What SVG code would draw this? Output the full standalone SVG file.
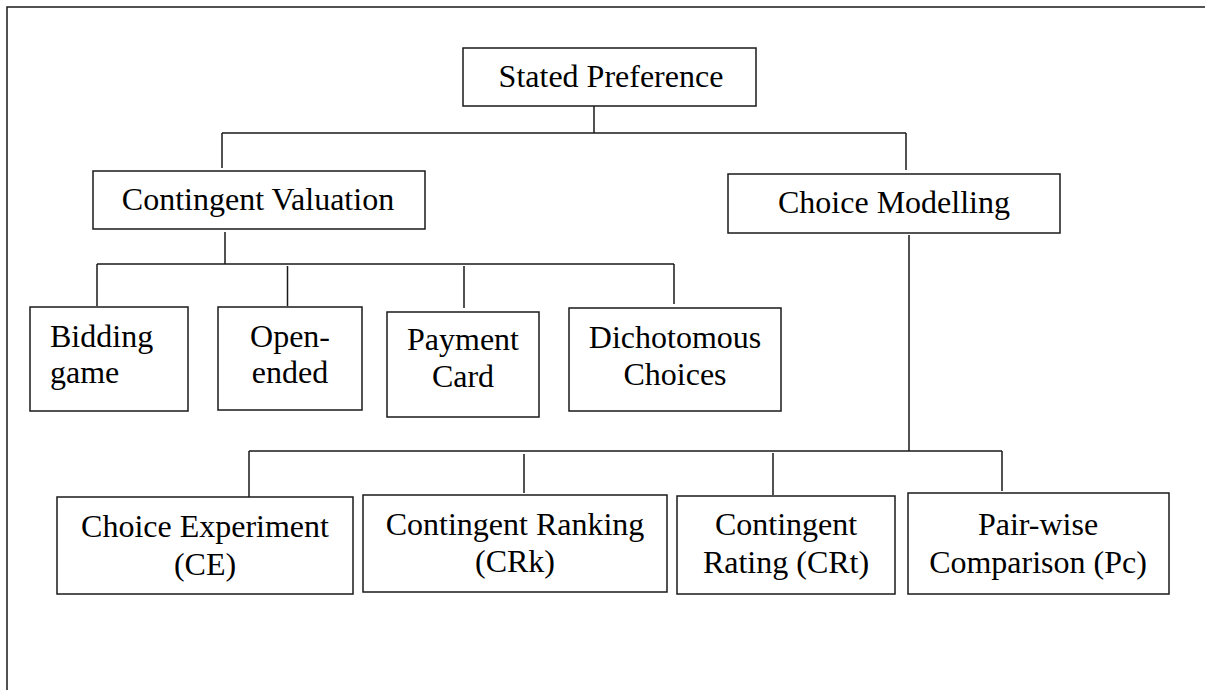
<svg xmlns="http://www.w3.org/2000/svg" width="1205" height="690" viewBox="0 0 1205 690">
<style>
.box{fill:#fff;stroke:#1a1a1a;stroke-width:1.5}
.t{font-family:"Liberation Serif","Times New Roman",serif;font-size:32px;fill:#000}
.c{text-anchor:middle}
.ln{stroke:#1a1a1a;stroke-width:1.5;fill:none}
</style>
<rect width="1205" height="690" fill="#fff"/>
<g id="frame"><path class="ln" d="M7,690 V7 H1205"/></g>
<g id="connectors">
<path class="ln" d="M594,106 V133 M222,133 H906 M222,133 V168 M906,133 V170"/>
<path class="ln" d="M225,232 V264 M97,264 H674 M97,264 V306 M287.5,266 V306 M464,266 V308 M674,264 V304"/>
<path class="ln" d="M909,235 V451 M249,451 H1002 M249,451 V497 M524,454 V493 M773,453 V495 M1002,451 V491"/>
</g>
<g id="stated-preference"><rect class="box" x="463" y="48" width="293" height="58"/><text class="t c" x="611" y="87">Stated Preference</text></g>
<g id="contingent-valuation"><rect class="box" x="93" y="171" width="332" height="58"/><text class="t c" x="258" y="210">Contingent Valuation</text></g>
<g id="choice-modelling"><rect class="box" x="728" y="174" width="332" height="59"/><text class="t c" x="894" y="213">Choice Modelling</text></g>
<g id="bidding-game"><rect class="box" x="30" y="307" width="158" height="104"/><text class="t" x="50" y="347">Bidding</text><text class="t" x="50" y="383">game</text></g>
<g id="open-ended"><rect class="box" x="218" y="307" width="144" height="103"/><text class="t c" x="290" y="347">Open-</text><text class="t c" x="290" y="383">ended</text></g>
<g id="payment-card"><rect class="box" x="387" y="312" width="152" height="105"/><text class="t c" x="463" y="350">Payment</text><text class="t c" x="463" y="387">Card</text></g>
<g id="dichotomous-choices"><rect class="box" x="569" y="308" width="212" height="103"/><text class="t c" x="675" y="348">Dichotomous</text><text class="t c" x="675" y="385">Choices</text></g>
<g id="choice-experiment"><rect class="box" x="57" y="497" width="296" height="97"/><text class="t c" x="205" y="537">Choice Experiment</text><text class="t c" x="205" y="575">(CE)</text></g>
<g id="contingent-ranking"><rect class="box" x="363" y="495" width="304" height="97"/><text class="t c" x="515" y="535">Contingent Ranking</text><text class="t c" x="515" y="572">(CRk)</text></g>
<g id="contingent-rating"><rect class="box" x="677" y="496" width="218" height="98"/><text class="t c" x="786" y="535">Contingent</text><text class="t c" x="786" y="573">Rating (CRt)</text></g>
<g id="pair-wise-comparison"><rect class="box" x="908" y="493" width="261" height="101"/><text class="t c" x="1038" y="535">Pair-wise</text><text class="t c" x="1038" y="573">Comparison (Pc)</text></g>
</svg>
